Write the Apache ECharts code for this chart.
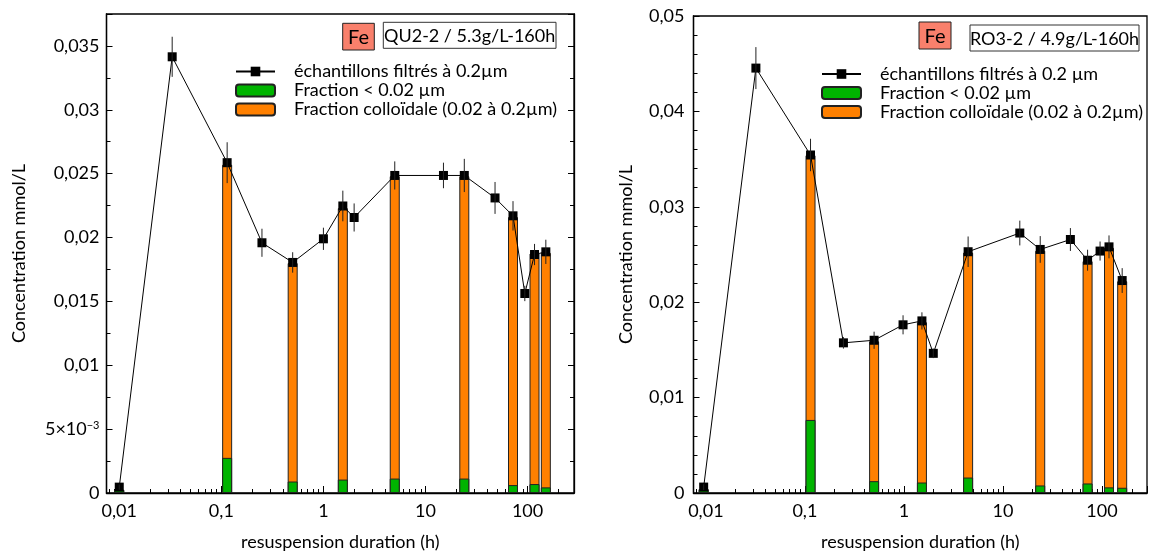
<!DOCTYPE html>
<html><head><meta charset="utf-8">
<script src="https://cdn.jsdelivr.net/npm/echarts@6/dist/echarts.min.js"></script>
<style>html,body{margin:0;padding:0;background:#fff}#c{width:1150px;height:556px}</style>
</head><body><div id="c"></div>
<script>
const FONT = 'Lato';
// ---------- Left chart: QU2-2 / 5.3g/L-160h ----------
const timesA    = [0.01, 0.033, 0.114, 0.25, 0.5, 1, 1.55, 2, 5, 15, 24, 48, 72, 94, 117, 151];
const filteredA = [0.00046, 0.03415, 0.02586, 0.01959, 0.01805, 0.0199, 0.02247, 0.02157, 0.02486, 0.02486, 0.02486, 0.0231, 0.0217, 0.01562, 0.01867, 0.01888];
const errA      = [0.0002, 0.00157, 0.0016, 0.0011, 0.0008, 0.00087, 0.0012, 0.0011, 0.0011, 0.001, 0.0013, 0.00125, 0.00115, 0.0006, 0.00083, 0.00095];
const barTimesA = [0.01, 0.114, 0.5, 1.55, 5, 24, 72, 117, 151];
const greenA    = [0.00025, 0.00275, 0.0009, 0.00105, 0.00113, 0.00113, 0.00062, 0.0007, 0.00044];
const colloidA  = [0, 0.02295, 0.0171, 0.02125, 0.02367, 0.02367, 0.02098, 0.01805, 0.01836];
// ---------- Right chart: RO3-2 / 4.9g/L-160h ----------
const timesB    = [0.0095, 0.032, 0.114, 0.245, 0.5, 0.98, 1.52, 1.98, 4.45, 14.8, 23.8, 48, 71.6, 95.7, 117.8, 160];
const filteredB = [0.00062, 0.04454, 0.03543, 0.01574, 0.01601, 0.01763, 0.01804, 0.01464, 0.02529, 0.02725, 0.02553, 0.02657, 0.0244, 0.02536, 0.0258, 0.02227];
const errB      = [0.0003, 0.0022, 0.0017, 0.0006, 0.0009, 0.001, 0.0009, 0.0005, 0.0016, 0.0013, 0.0014, 0.0012, 0.0011, 0.001, 0.0012, 0.0013];
const barTimesB = [0.0095, 0.114, 0.5, 1.52, 4.45, 23.8, 71.6, 117.8, 160];
const greenB    = [0.0004, 0.00766, 0.00124, 0.0011, 0.00162, 0.00079, 0.001, 0.00059, 0.00055];
const colloidB  = [0, 0.02774, 0.01466, 0.0168, 0.02358, 0.02461, 0.0233, 0.02511, 0.02165];
// ---------- labels ----------
const element = 'Fe';
const sampleA = 'QU2-2 / 5.3g/L-160h';
const sampleB = 'RO3-2 / 4.9g/L-160h';
const lineNameA = 'échantillons filtrés à 0.2µm';
const lineNameB = 'échantillons filtrés à 0.2 µm';
const greenName = 'Fraction < 0.02 µm';
const orangeName = 'Fraction colloïdale (0.02 à 0.2µm)';
const xTitle = 'resuspension duration (h)';
const yTitle = 'Concentration mmol/L';
const X_MIN = 0.0075, X_MAX = 285;
const minorX = [];
[0.001, 0.01, 0.1, 1, 10, 100].forEach(d => { for (let k = 2; k <= 9; k++) minorX.push(Math.log10(k * d)); });

const GREEN = '#00b400', ORANGE = '#ff8000', SALMON = '#f9806c';
const axisLineStyle = { color: '#000', width: 1.3 };

function fmtNum(v) { return String(parseFloat(v.toPrecision(6))).replace('.', ','); }
function xFmt(v) {
  const l = Math.log10(v);
  if (Math.abs(l - Math.round(l)) > 1e-6) return '';
  return fmtNum(v);
}
function yFmtA(v) {
  if (v === 0) return '0';
  if (Math.abs(v - 0.005) < 1e-9) return '5×10{sup|−3}';
  return fmtNum(v);
}

function logX(gi, min, max) {
  return {
    type: 'log', logBase: 10, gridIndex: gi, min: min, max: max, position: 'bottom',
    name: xTitle, nameLocation: 'middle', nameGap: 40,
    nameTextStyle: { fontFamily: FONT, fontSize: 18, color: '#000' },
    axisLine: { show: true, onZero: false, lineStyle: axisLineStyle },
    axisTick: { show: true, inside: true, length: 7, lineStyle: { color: '#000', width: 1 } },
    axisLabel: { show: true, formatter: xFmt, fontFamily: FONT, fontSize: 18, color: '#000', margin: 9 },
    splitLine: { show: false }, minorTick: { show: false }
  };
}
function minorXAxis(gi, min, max) {
  return {
    type: 'value', gridIndex: gi, min: Math.log10(min), max: Math.log10(max), position: 'bottom',
    axisLine: { show: false, onZero: false }, axisLabel: { show: false }, splitLine: { show: false },
    axisTick: { show: true, inside: true, length: 4, customValues: minorX, lineStyle: { color: '#000', width: 1 } }
  };
}
function yAx(gi, max, interval, minorSplit, pos, showLabel, fmt, gap, margin, showMax) {
  return {
    type: 'value', gridIndex: gi, min: 0, max: max, interval: interval, position: pos,
    name: showLabel ? yTitle : '', nameLocation: 'middle', nameGap: gap,
    nameTextStyle: { fontFamily: FONT, fontSize: 18, color: '#000' },
    axisLine: { show: true, onZero: false, lineStyle: axisLineStyle },
    axisTick: { show: true, inside: true, length: 6, lineStyle: { color: '#000', width: 1 } },
    minorTick: { show: true, splitNumber: minorSplit, length: 4, lineStyle: { color: '#000', width: 1 } },
    axisLabel: {
      show: showLabel, formatter: fmt, fontFamily: FONT, fontSize: 18, color: '#000', margin: margin,
      showMaxLabel: showMax,
      rich: { sup: { fontFamily: FONT, fontSize: 11, color: '#000', verticalAlign: 'top', padding: [0, 0, 6, 0] } }
    },
    splitLine: { show: false }, minorSplitLine: { show: false }
  };
}

function barSeries(name, times, vals, color, xi, yi, z) {
  return {
    name: name, type: 'bar', xAxisIndex: xi, yAxisIndex: yi, barWidth: 10, barGap: '-100%',
    data: times.map((t, i) => [t, vals[i]]),
    itemStyle: { color: color, borderColor: '#222', borderWidth: 1 }, z: z
  };
}
function lineSeries(name, times, vals, xi, yi) {
  return {
    name: name, type: 'line', xAxisIndex: xi, yAxisIndex: yi,
    data: times.map((t, i) => [t, vals[i]]),
    symbol: 'rect', symbolSize: 9, showAllSymbol: true,
    itemStyle: { color: '#000' }, lineStyle: { color: '#000', width: 1 }, z: 4
  };
}
function errSeries(times, vals, errs, xi, yi) {
  return {
    type: 'custom', xAxisIndex: xi, yAxisIndex: yi, z: 5,
    data: times.map((t, i) => [t, vals[i], errs[i]]),
    encode: { x: 0, y: 1 },
    renderItem: function (params, api) {
      const x = api.value(0), y = api.value(1), e = api.value(2);
      const p1 = api.coord([x, y - e]), p2 = api.coord([x, y + e]);
      return { type: 'line', shape: { x1: p1[0], y1: p1[1], x2: p2[0], y2: p2[1] },
               style: { stroke: '#222', lineWidth: 1 } };
    }
  };
}
function legend(left, top, lineName) {
  return {
    orient: 'vertical', left: left, top: top, itemWidth: 39, itemHeight: 12, itemGap: 0, padding: 0,
    selectedMode: false, data: [lineName, greenName, orangeName],
    textStyle: { fontFamily: FONT, fontSize: 18, lineHeight: 19, color: '#000', padding: [0, 0, 0, 14] }
  };
}
function tagBox(fx, fy, fw, fh, lx, ly, lw, lh, label) {
  return [
    { type: 'rect', shape: { x: fx, y: fy, width: fw, height: fh }, style: { fill: SALMON, stroke: '#222', lineWidth: 1 } },
    { type: 'text', x: fx + fw / 2, y: fy + fh / 2 + 1, style: { text: element, fontFamily: FONT, fontSize: 20, fill: '#000', align: 'center', verticalAlign: 'middle' } },
    { type: 'rect', shape: { x: lx, y: ly, width: lw, height: lh }, style: { fill: '#fff', stroke: '#333', lineWidth: 1 } },
    { type: 'text', x: lx + lw / 2, y: ly + lh / 2 + 1, style: { text: label, fontFamily: FONT, fontSize: 18, fill: '#000', align: 'center', verticalAlign: 'middle' } }
  ];
}
// stacked totals (green + colloidal) for the orange column, green drawn on top of it
const totalA = greenA.map((g, i) => g + colloidA[i]);
const totalB = greenB.map((g, i) => g + colloidB[i]);

const option = {
  animation: false,
  backgroundColor: '#fff',
  grid: [
    { left: 106.5, top: 14, width: 467.5, height: 486, show: true, borderColor: '#000', borderWidth: 1.3, containLabel: false },
    { left: 693.5, top: 16, width: 462.5, height: 485, show: true, borderColor: '#000', borderWidth: 1.3, containLabel: false }
  ],
  xAxis: [logX(0, X_MIN, X_MAX), minorXAxis(0, X_MIN, X_MAX), logX(1, X_MIN, X_MAX), minorXAxis(1, X_MIN, X_MAX)],
  yAxis: [
    yAx(0, 0.0375, 0.005, 2, 'left', true, yFmtA, 78, 7, false),
    yAx(0, 0.0375, 0.005, 2, 'right', false, null, 0, 7, false),
    yAx(1, 0.05, 0.01, 5, 'left', true, fmtNum, 58, 9, true)
  ],
  legend: [legend(235, 62, lineNameA), legend(821, 64.5, lineNameB)],
  graphic: tagBox(342.7, 23.3, 31.6, 26.7, 383.3, 22.3, 172.7, 26, sampleA)
    .concat(tagBox(919, 22, 32, 27, 970, 25, 169, 26, sampleB)),
  series: [
    barSeries(orangeName, barTimesA, totalA, ORANGE, 0, 0, 2),
    barSeries(greenName, barTimesA, greenA, GREEN, 0, 0, 3),
    lineSeries(lineNameA, timesA, filteredA, 0, 0),
    errSeries(timesA, filteredA, errA, 0, 0),
    barSeries(orangeName, barTimesB, totalB, ORANGE, 2, 2, 2),
    barSeries(greenName, barTimesB, greenB, GREEN, 2, 2, 3),
    lineSeries(lineNameB, timesB, filteredB, 2, 2),
    errSeries(timesB, filteredB, errB, 2, 2)
  ]
};
const chart = echarts.init(document.getElementById('c'), null, { renderer: 'canvas' });
chart.setOption(option);
</script>
</body></html>
